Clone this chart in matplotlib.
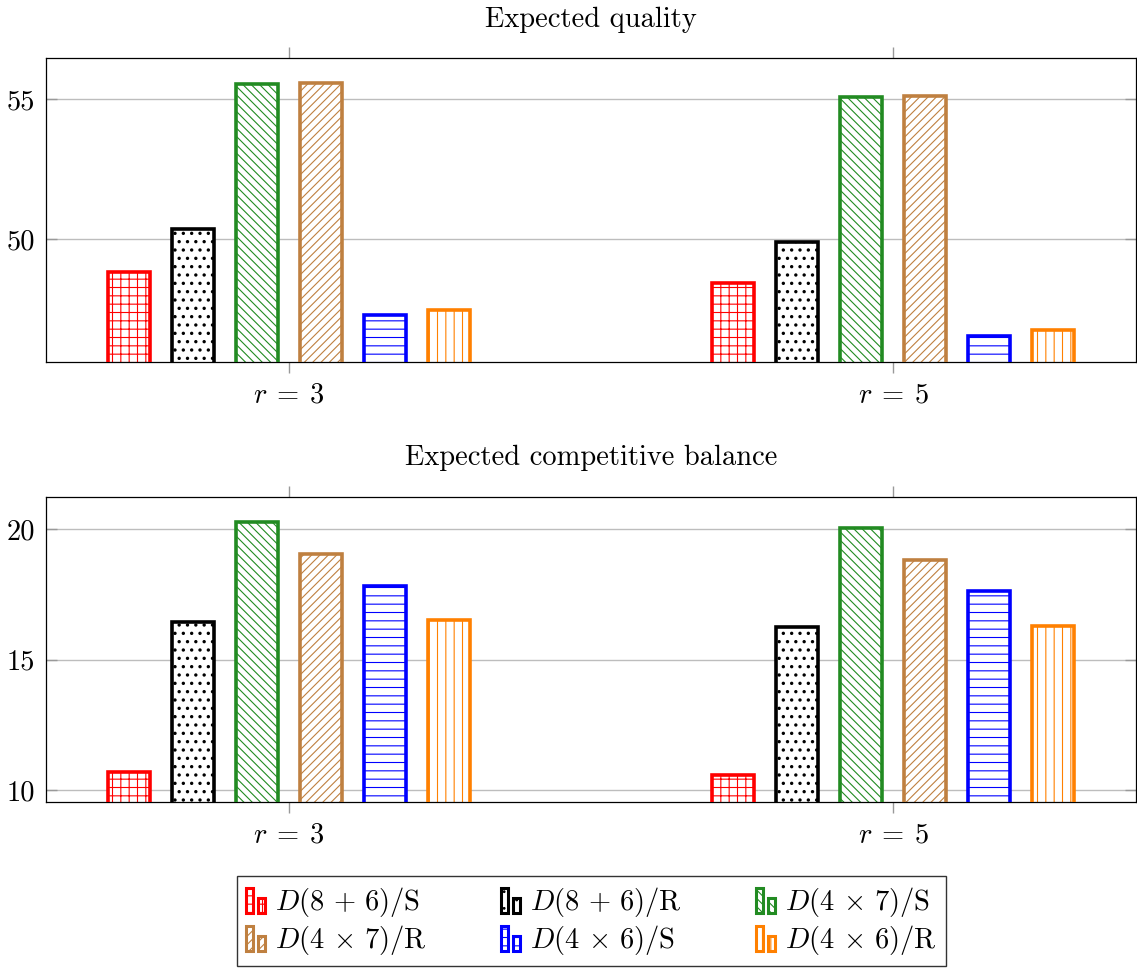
import matplotlib
matplotlib.use("Agg")
import matplotlib.pyplot as plt
import numpy as np
from matplotlib.patches import Rectangle
from matplotlib.legend_handler import HandlerBase

plt.rcParams["font.family"] = "cmr10"
plt.rcParams["mathtext.fontset"] = "cm"
plt.rcParams["axes.unicode_minus"] = False
plt.rcParams["hatch.linewidth"] = 0.8
plt.rcParams["axes.formatter.use_mathtext"] = True

# ---- data -------------------------------------------------------------
groups = [r"$r\:=\:3$", r"$r\:=\:5$"]
series = [r"$D(8\,+\,6)/\mathrm{S}$", r"$D(8\,+\,6)/\mathrm{R}$", r"$D(4\,\times\,7)/\mathrm{S}$",
          r"$D(4\,\times\,7)/\mathrm{R}$", r"$D(4\,\times\,6)/\mathrm{S}$", r"$D(4\,\times\,6)/\mathrm{R}$"]

quality_d86_s = [48.84, 48.44]
quality_d86_r = [50.36, 49.92]
quality_d47_s = [55.56, 55.08]
quality_d47_r = [55.59, 55.12]
quality_d46_s = [47.30, 46.55]
quality_d46_r = [47.48, 46.76]

balance_d86_s = [10.70, 10.58]
balance_d86_r = [16.44, 16.25]
balance_d47_s = [20.27, 20.05]
balance_d47_r = [19.04, 18.83]
balance_d46_s = [17.84, 17.63]
balance_d46_r = [16.52, 16.29]

quality_ticks = [50, 55]
balance_ticks = [10, 15, 20]

# ---- styling ----------------------------------------------------------
colors = ["#ff0000", "#000000", "#228b22", "#bf8040", "#0000ff", "#ff8000"]
hatches = ["++", "..", "\\\\\\\\", "////", "--", "||"]
hatch_lw = [0.8, 1.2, 0.8, 0.8, 0.8, 0.8]
FS = 20.5
bar_w = 0.0694
step = 0.1058


def draw_panel(ax, data, ylim, yticks):
    x = np.arange(len(groups))
    n = len(data)
    for i, vals in enumerate(data):
        pos = x + (i - (n - 1) / 2) * step
        # hatched white fill
        bars = ax.bar(pos, vals, width=bar_w, bottom=0, color="white", edgecolor=colors[i],
                      linewidth=0, hatch=hatches[i], zorder=2)
        for b in bars:
            if hasattr(b, "set_hatch_linewidth"):
                b.set_hatch_linewidth(hatch_lw[i])
        # solid outline
        ax.bar(pos, vals, width=bar_w, bottom=0, fill=False, edgecolor=colors[i],
               linewidth=2.6, zorder=3)
    ax.set_xlim(-0.4017, 1.4017)
    ax.set_ylim(*ylim)
    ax.set_xticks(x)
    ax.set_xticklabels(groups, fontsize=FS)
    ax.set_yticks(yticks)
    ax.set_yticklabels([str(t) for t in yticks], fontsize=FS)
    ax.yaxis.grid(True, color="#bdbdbd", linewidth=1.0, zorder=0)
    ax.set_axisbelow(True)
    ax.tick_params(axis="x", direction="out", length=8, width=1, color="#999999",
                   top=True, bottom=True, labeltop=False, pad=7)
    ax.tick_params(axis="y", direction="in", length=8, width=1, color="#999999",
                   left=True, right=True, pad=8)
    for s in ax.spines.values():
        s.set_color("black")
        s.set_linewidth(0.9)


fig = plt.figure(figsize=(11.37, 9.68), dpi=100)
ax1 = fig.add_axes([0.0407, 0.6263, 0.9584, 0.3141])
ax2 = fig.add_axes([0.0407, 0.1718, 0.9584, 0.3145])

draw_panel(ax1, [quality_d86_s, quality_d86_r, quality_d47_s, quality_d47_r,
                 quality_d46_s, quality_d46_r], (45.63, 56.49), quality_ticks)
draw_panel(ax2, [balance_d86_s, balance_d86_r, balance_d47_s, balance_d47_r,
                 balance_d46_s, balance_d46_r], (9.56, 21.23), balance_ticks)

fig.text(591 / 1137, 1 - 20 / 968, "Expected quality", ha="center", va="center", fontsize=FS)
fig.text(591 / 1137, 1 - 458 / 968, "Expected competitive balance", ha="center",
         va="center", fontsize=FS)


class TwoBarHandler(HandlerBase):
    def create_artists(self, legend, orig_handle, xdescent, ydescent, width, height,
                       fontsize, trans):
        ec = orig_handle.get_edgecolor()
        hatch = orig_handle.get_hatch()
        bw = width * 0.27
        gap = width * 0.17
        arts = []
        for k, frac in enumerate([1.0, 0.6]):
            x0 = -xdescent + k * (bw + gap)
            y0 = -ydescent - height * 0.15
            h = height * 1.25 * frac
            r1 = Rectangle((x0, y0), bw, h, facecolor="white", edgecolor=ec,
                           linewidth=0, hatch=hatch, transform=trans)
            r2 = Rectangle((x0, y0), bw, h, fill=False, edgecolor=ec,
                           linewidth=2.2, transform=trans)
            arts += [r1, r2]
        return arts


handles = [Rectangle((0, 0), 1, 1, facecolor="white", edgecolor=c, hatch=h)
           for c, h in zip(colors, hatches)]
# fill the legend row by row
order = [0, 3, 1, 4, 2, 5]
leg = fig.legend([handles[k] for k in order], [series[k] for k in order], loc="center", ncol=3,
                 bbox_to_anchor=(591.5 / 1137, 1 - 921 / 968), fontsize=FS,
                 handler_map={Rectangle: TwoBarHandler()}, frameon=True, fancybox=False,
                 edgecolor="black", handlelength=0.95, handletextpad=0.08,
                 columnspacing=2.6, labelspacing=0.15, borderpad=0.3, borderaxespad=0)
leg.get_frame().set_linewidth(1.0)

fig.savefig("out.png", dpi=100)
